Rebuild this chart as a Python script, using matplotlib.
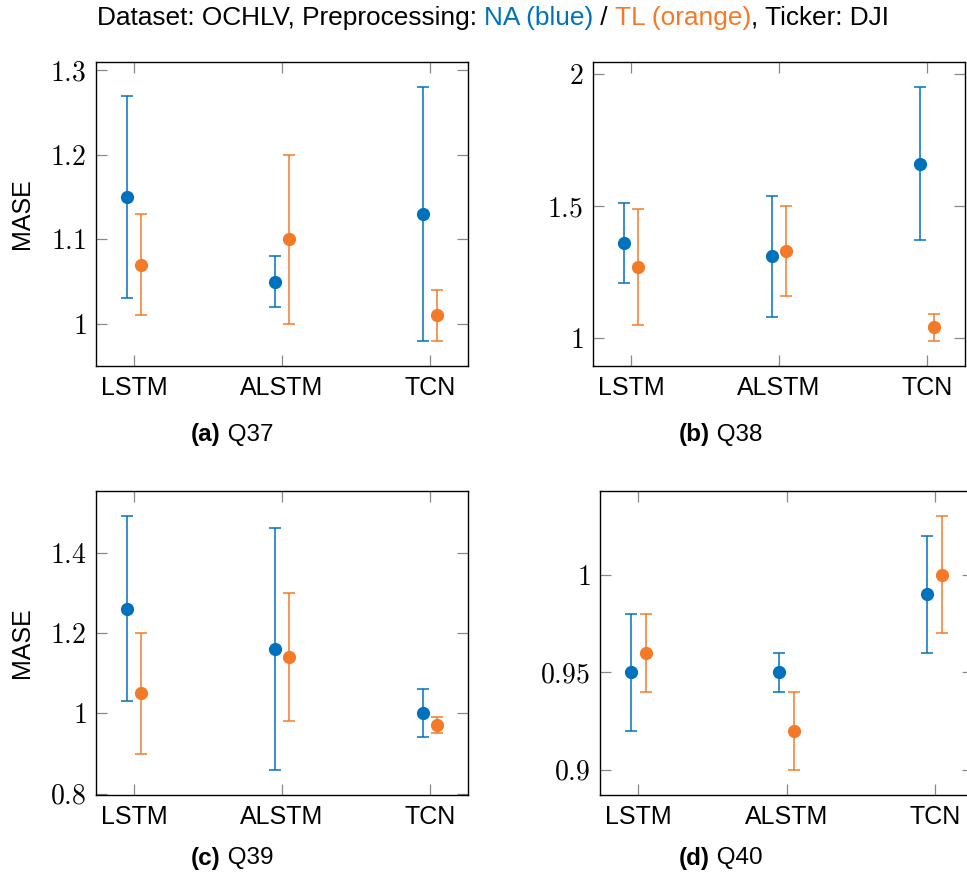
import matplotlib
matplotlib.use("Agg")
import matplotlib.pyplot as plt

plt.rcParams["font.family"] = ["Liberation Sans", "DejaVu Sans"]
plt.rcParams["mathtext.fontset"] = "cm"

BLUE = "#0072BD"
ORANGE = "#F47A27"

models = ["LSTM", "ALSTM", "TCN"]
panels = ["(a)", "(b)", "(c)", "(d)"]
questions = ["Q37", "Q38", "Q39", "Q40"]

# NA (blue): mean, lower, upper per model
na_mean = [[1.15, 1.05, 1.13], [1.36, 1.31, 1.66], [1.26, 1.16, 1.00], [0.95, 0.95, 0.99]]
na_lo = [[1.03, 1.02, 0.98], [1.21, 1.08, 1.37], [1.03, 0.86, 0.94], [0.92, 0.94, 0.96]]
na_hi = [[1.27, 1.08, 1.28], [1.51, 1.54, 1.95], [1.49, 1.46, 1.06], [0.98, 0.96, 1.02]]

# TL (orange)
tl_mean = [[1.07, 1.10, 1.01], [1.27, 1.33, 1.04], [1.05, 1.14, 0.97], [0.96, 0.92, 1.00]]
tl_lo = [[1.01, 1.00, 0.98], [1.05, 1.16, 0.99], [0.90, 0.98, 0.95], [0.94, 0.90, 0.97]]
tl_hi = [[1.13, 1.20, 1.04], [1.49, 1.50, 1.09], [1.20, 1.30, 0.99], [0.98, 0.94, 1.03]]

yticks = [[1, 1.1, 1.2, 1.3], [1, 1.5, 2], [0.8, 1, 1.2, 1.4], [0.9, 0.95, 1]]
yticklabels = [["1", "1.1", "1.2", "1.3"], ["1", "1.5", "2"],
               ["0.8", "1", "1.2", "1.4"], ["0.9", "0.95", "1"]]

W, H = 967, 882
# axes boxes in pixels: left, top, right, bottom
boxes = [(96, 62, 468, 366), (593, 62, 965, 366),
         (96, 491, 468, 795), (600, 491, 973, 795)]
caption_pos = [(232, 435), (721, 435), (232, 858), (721, 858)]

fig = plt.figure(figsize=(W / 100, H / 100), dpi=100)
renderer = fig.canvas.get_renderer()


def pieces_line(pieces, xc, yc, size):
    # draw a row of text pieces centred at (xc, yc) in pixels
    texts = []
    for s, color, weight in pieces:
        t = fig.text(0, 0, s, color=color, fontsize=size, fontweight=weight,
                     ha="left", va="center")
        texts.append(t)
    widths = [t.get_window_extent(renderer).width for t in texts]
    x = xc - sum(widths) / 2
    for t, w in zip(texts, widths):
        t.set_position((x / W, 1 - yc / H))
        x += w


off = 0.05
for i in range(4):
    l, t, r, b = boxes[i]
    ax = fig.add_axes([l / W, 1 - b / H, (r - l) / W, (b - t) / H])
    xs = range(len(models))
    for mean, lo, hi, color, d in [(na_mean[i], na_lo[i], na_hi[i], BLUE, -off),
                                   (tl_mean[i], tl_lo[i], tl_hi[i], ORANGE, off)]:
        err = [[m - a for m, a in zip(mean, lo)], [c - m for m, c in zip(mean, hi)]]
        ax.errorbar([x + d for x in xs], mean, yerr=err, fmt="o", color=color,
                    ms=8.5, elinewidth=1.1, capsize=4, capthick=1.1)
    lo_all = min(na_lo[i] + tl_lo[i])
    hi_all = max(na_hi[i] + tl_hi[i])
    pad = 0.1 * (hi_all - lo_all)
    ax.set_ylim(lo_all - pad, hi_all + pad)
    ax.set_xlim(-0.257, 2.257)
    ax.set_xticks(list(xs))
    ax.set_xticklabels(models, fontsize=18)
    ax.set_yticks(yticks[i])
    ax.set_yticklabels(["$" + s + "$" for s in yticklabels[i]], fontsize=20)
    ax.tick_params(direction="in", length=8, width=0.9, color="#888888",
                   top=True, right=True, pad=7)
    for sp in ax.spines.values():
        sp.set_linewidth(1.0)
    cx, cy = caption_pos[i]
    pieces_line([(panels[i], "black", "bold"), (" " + questions[i], "black", "normal")],
                cx, cy, 17.5)

fig.text(22 / W, 1 - 214 / H, "MASE", rotation=90, fontsize=18, ha="center", va="center")
fig.text(22 / W, 1 - 643 / H, "MASE", rotation=90, fontsize=18, ha="center", va="center")

pieces_line([("Dataset: OCHLV, Preprocessing: ", "black", "normal"),
             ("NA (blue)", BLUE, "normal"),
             (" / ", "black", "normal"),
             ("TL (orange)", ORANGE, "normal"),
             (", Ticker: DJI", "black", "normal")], 493, 18, 18.9)

fig.savefig("out.png", dpi=100)
plt.close(fig)
